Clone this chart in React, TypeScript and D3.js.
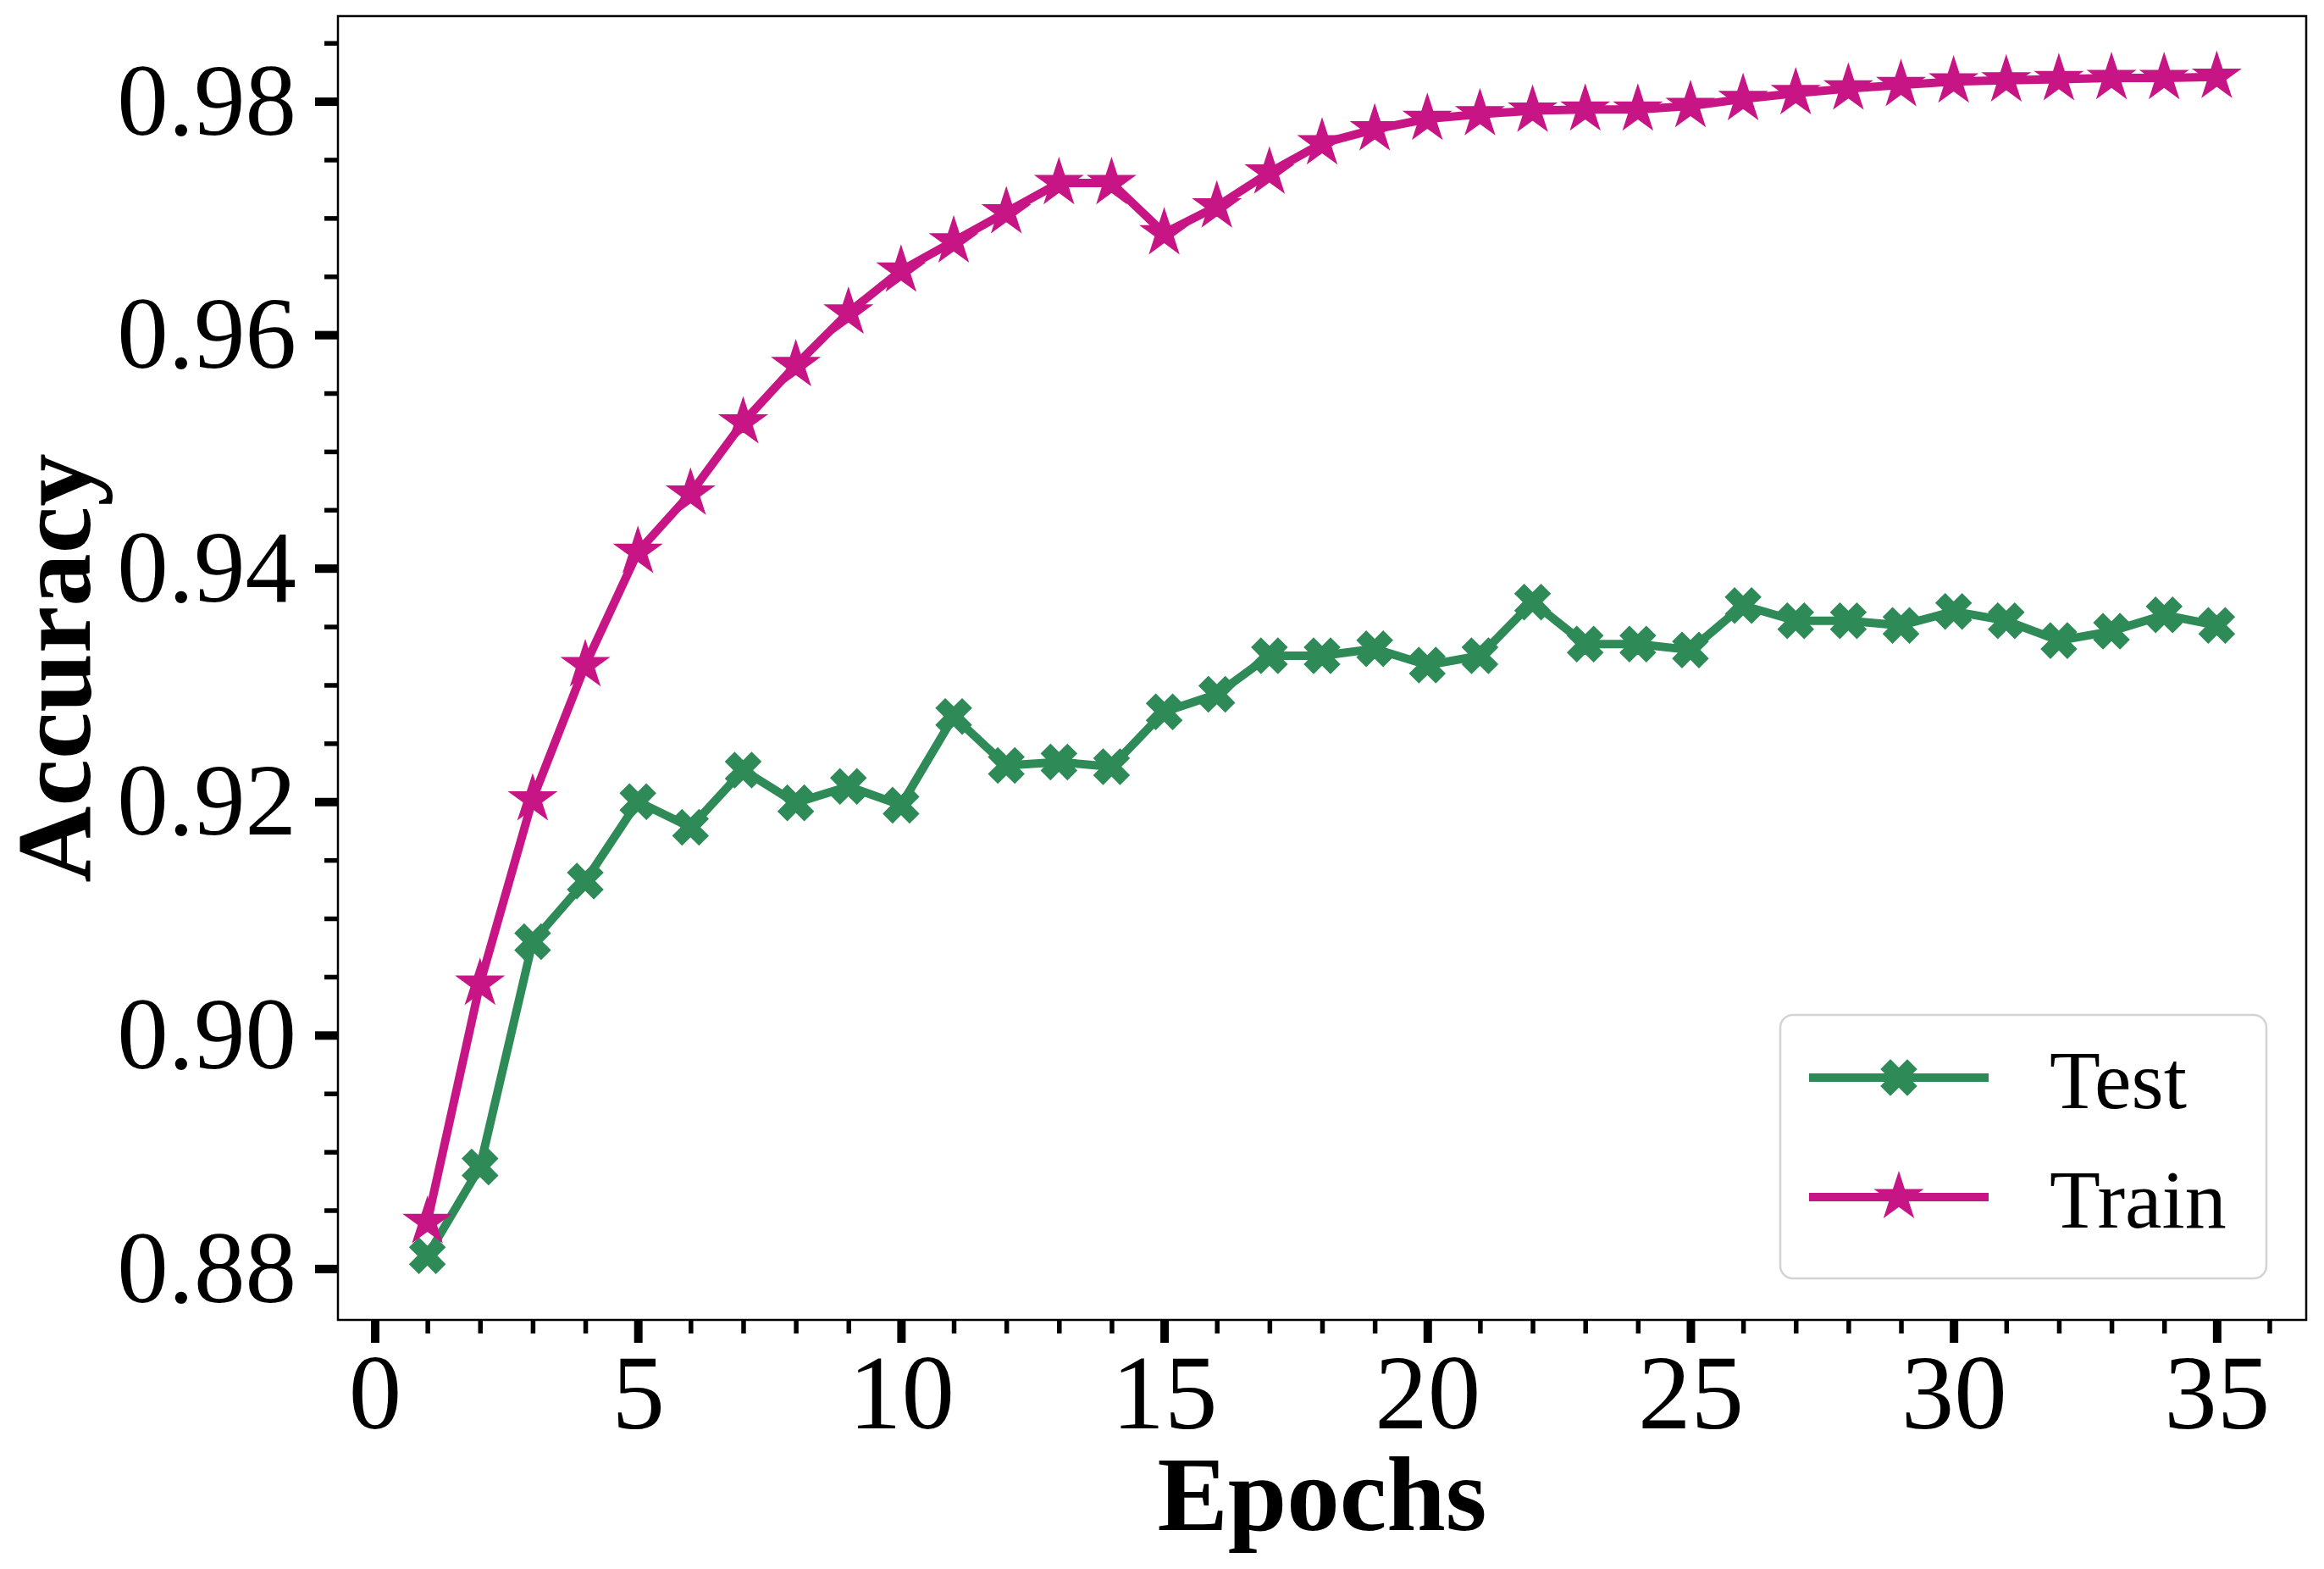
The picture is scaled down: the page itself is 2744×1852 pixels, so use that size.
import React, { useEffect, useRef } from 'react';
import * as d3 from 'd3';

const epochs = d3.range(1, 36);

const testAcc = [
  0.8811, 0.8887, 0.908, 0.9132, 0.92, 0.9178, 0.9227, 0.9199, 0.9213, 0.9197,
  0.9273, 0.9231, 0.9234, 0.923, 0.9277, 0.9292, 0.9325, 0.9325, 0.9331, 0.9317,
  0.9325, 0.9371, 0.9335, 0.9335, 0.933, 0.9368, 0.9355, 0.9355, 0.9351, 0.9363,
  0.9355, 0.9338, 0.9346, 0.936, 0.9351,
];

const trainAcc = [
  0.884, 0.9044, 0.9202, 0.9317, 0.9414, 0.9464, 0.9525, 0.9574, 0.9619, 0.9655,
  0.968, 0.9705, 0.973, 0.973, 0.9687, 0.971, 0.9739, 0.9764, 0.9776, 0.9785,
  0.9789, 0.9792, 0.9793, 0.9793, 0.9796, 0.9802, 0.9807, 0.9811, 0.9814, 0.9817,
  0.9818, 0.9819, 0.982, 0.982, 0.9821,
];

const xMajorTicks = [0, 5, 10, 15, 20, 25, 30, 35];
const yMajorTicks = [0.88, 0.9, 0.92, 0.94, 0.96, 0.98];

const TEST_COLOR = '#2e8b57';
const TRAIN_COLOR = '#c71585';
const FONT = '"Liberation Serif", "Times New Roman", serif';

// matplotlib style markers, size = full extent in px
const xFilled: d3.SymbolType = {
  draw(ctx, size) {
    const s = size / 4;
    const pts = [
      [-1, -2], [0, -1], [1, -2], [2, -1], [1, 0], [2, 1],
      [1, 2], [0, 1], [-1, 2], [-2, 1], [-1, 0], [-2, -1],
    ];
    pts.forEach(([px, py], i) => {
      if (i === 0) ctx.moveTo(px * s, py * s);
      else ctx.lineTo(px * s, py * s);
    });
    ctx.closePath();
  },
};

const star: d3.SymbolType = {
  draw(ctx, size) {
    const R = size / 2;
    const r = R * 0.381966;
    for (let i = 0; i < 10; i++) {
      const a = -Math.PI / 2 + (i * Math.PI) / 5;
      const rad = i % 2 === 0 ? R : r;
      const px = Math.cos(a) * rad;
      const py = Math.sin(a) * rad;
      if (i === 0) ctx.moveTo(px, py);
      else ctx.lineTo(px, py);
    }
    ctx.closePath();
  },
};

const App: React.FC = () => {
  const svgRef = useRef<SVGSVGElement>(null);

  useEffect(() => {
    document.body.style.margin = '0';
    if (!svgRef.current) return;
    drawChart(svgRef.current);
  }, []);

  return <svg ref={svgRef} width={2744} height={1852} style={{ display: 'block', background: '#fff' }} />;
};

const drawChart = (el: SVGSVGElement) => {
  const margin = { top: 19, left: 399, right: 21, bottom: 294 };
  const width = 2744 - margin.left - margin.right;
  const height = 1852 - margin.top - margin.bottom;

  const svg = d3.select(el);
  svg.selectAll('*').remove();

  const g = svg.append('g').attr('transform', `translate(${margin.left},${margin.top})`);

  const xScale = d3.scaleLinear().domain([-0.7, 36.7]).range([0, width]);
  const yScale = d3.scaleLinear().domain([0.8756, 0.9873]).range([height, 0]);

  // minor ticks
  const xMinor = d3.range(0, 37).filter((d) => d % 5 !== 0);
  const yMinor = d3
    .range(176, 198)
    .map((k) => k * 0.005)
    .filter((d) => Math.round(d * 1000) % 20 !== 0)
    .filter((d) => d > 0.8756 && d < 0.9873);

  const xMinorG = g
    .append('g')
    .attr('transform', `translate(0,${height})`)
    .call(d3.axisBottom(xScale).tickValues(xMinor).tickSize(16).tickSizeOuter(0).tickFormat(() => ''));
  xMinorG.selectAll('.tick line').attr('stroke-width', 5.5);

  const yMinorG = g
    .append('g')
    .call(d3.axisLeft(yScale).tickValues(yMinor).tickSize(16).tickSizeOuter(0).tickFormat(() => ''));
  yMinorG.selectAll('.tick line').attr('stroke-width', 5.5);

  const xAxisG = g
    .append('g')
    .attr('transform', `translate(0,${height})`)
    .call(d3.axisBottom(xScale).tickValues(xMajorTicks).tickSize(27).tickSizeOuter(0).tickPadding(12).tickFormat(d3.format('d')));
  xAxisG.selectAll('.tick line').attr('stroke-width', 10);
  xAxisG.selectAll('.tick text').style('font-size', '125px');

  const yAxisG = g
    .append('g')
    .call(d3.axisLeft(yScale).tickValues(yMajorTicks).tickSize(27).tickSizeOuter(0).tickPadding(22).tickFormat(d3.format('.2f')));
  yAxisG.selectAll('.tick line').attr('stroke-width', 10);
  yAxisG.selectAll('.tick text').style('font-size', '121px');

  g.selectAll('.domain').remove();
  g.selectAll('.tick text').style('font-family', FONT).attr('fill', '#000');

  // frame
  g.append('rect')
    .attr('x', 0)
    .attr('y', 0)
    .attr('width', width)
    .attr('height', height)
    .attr('fill', 'none')
    .attr('stroke', '#000')
    .attr('stroke-width', 2.5);

  const series = [
    { name: 'Test', values: testAcc, color: TEST_COLOR, symbol: xFilled, size: 40 },
    { name: 'Train', values: trainAcc, color: TRAIN_COLOR, symbol: star, size: 54 },
  ];

  const line = d3
    .line<number>()
    .x((_, i) => xScale(epochs[i]))
    .y((d) => yScale(d));

  series.forEach((s) => {
    g.append('path')
      .datum(s.values)
      .attr('d', line)
      .attr('fill', 'none')
      .attr('stroke', s.color)
      .attr('stroke-width', 10)
      .attr('stroke-linejoin', 'round');

    const sym = d3.symbol().type(s.symbol).size(s.size);
    g.selectAll(null)
      .data(s.values)
      .enter()
      .append('path')
      .attr('transform', (d, i) => `translate(${xScale(epochs[i])},${yScale(d)})`)
      .attr('d', sym)
      .attr('fill', s.color)
      .attr('stroke', s.color)
      .attr('stroke-width', 2.5);
  });

  // axis labels
  svg
    .append('text')
    .attr('x', margin.left + width / 2)
    .attr('y', 1806)
    .attr('text-anchor', 'middle')
    .style('font-family', FONT)
    .style('font-weight', 'bold')
    .style('font-size', '125px')
    .text('Epochs');

  svg
    .append('text')
    .attr('transform', `translate(106,${margin.top + height / 2}) rotate(-90)`)
    .attr('text-anchor', 'middle')
    .style('font-family', FONT)
    .style('font-weight', 'bold')
    .style('font-size', '125px')
    .text('Accuracy');

  // legend
  const legend = svg.append('g');
  legend
    .append('rect')
    .attr('x', 2102)
    .attr('y', 1198)
    .attr('width', 574)
    .attr('height', 311)
    .attr('rx', 15)
    .attr('fill', '#fff')
    .attr('fill-opacity', 0.8)
    .attr('stroke', '#d3d3d3')
    .attr('stroke-width', 2.5);

  series.forEach((s, i) => {
    const ly = 1272 + i * 141;
    legend
      .append('line')
      .attr('x1', 2136)
      .attr('x2', 2348)
      .attr('y1', ly)
      .attr('y2', ly)
      .attr('stroke', s.color)
      .attr('stroke-width', 10);
    legend
      .append('path')
      .attr('transform', `translate(2242,${ly})`)
      .attr('d', d3.symbol().type(s.symbol).size(s.size)())
      .attr('fill', s.color)
      .attr('stroke', s.color)
      .attr('stroke-width', 2.5);
    legend
      .append('text')
      .attr('x', 2420)
      .attr('y', ly + 36)
      .style('font-family', FONT)
      .style('font-size', '98px')
      .text(s.name);
  });
};

export default App;
